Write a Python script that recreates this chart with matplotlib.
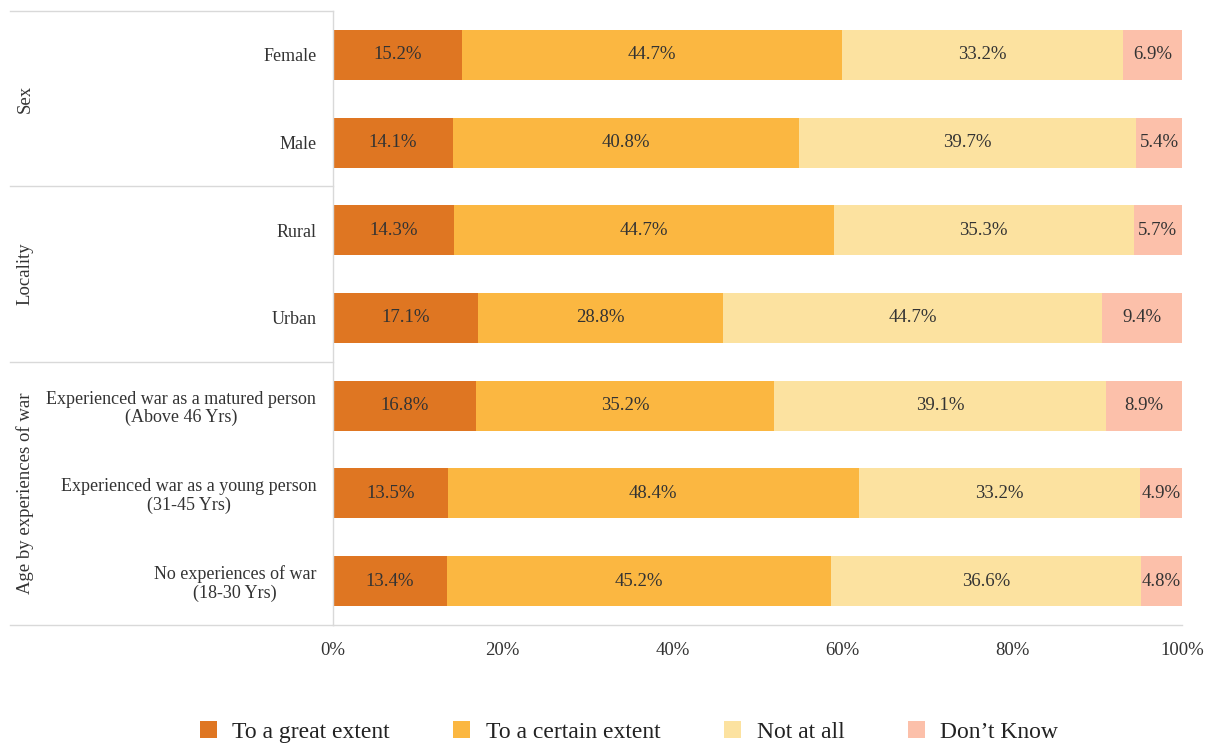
import matplotlib
matplotlib.use("Agg")
import matplotlib.pyplot as plt
import matplotlib.transforms as mtransforms
from matplotlib.lines import Line2D
from matplotlib.ticker import PercentFormatter
import numpy as np

plt.rcParams["font.family"] = ["Liberation Serif", "DejaVu Serif"]

# Data (percent of respondents)
rows = [
    "Female",
    "Male",
    "Rural",
    "Urban",
    "Experienced war as a matured person\n(Above 46 Yrs)",
    "Experienced war as a young person\n(31-45 Yrs)",
    "No experiences of war\n(18-30 Yrs)",
]
great_extent = [15.2, 14.1, 14.3, 17.1, 16.8, 13.5, 13.4]
certain_extent = [44.7, 40.8, 44.7, 28.8, 35.2, 48.4, 45.2]
not_at_all = [33.2, 39.7, 35.3, 44.7, 39.1, 33.2, 36.6]
dont_know = [6.9, 5.4, 5.7, 9.4, 8.9, 4.9, 4.8]

groups = ["Sex", "Locality", "Age by experiences of war"]
group_sizes = [2, 2, 3]

series = [great_extent, certain_extent, not_at_all, dont_know]
labels = ["To a great extent", "To a certain extent", "Not at all", "Don\u2019t Know"]
colors = ["#DF7622", "#FBB741", "#FCE2A0", "#FCC0AA"]
text_color = "#333333"
fs = 13.5

fig = plt.figure(figsize=(12.12, 7.47), dpi=100)
ax = fig.add_axes([333 / 1212, 1 - 625 / 747, 849 / 1212, 614 / 747])

y = np.arange(len(rows))
left = np.zeros(len(rows))
for vals, lab, col in zip(series, labels, colors):
    vals = np.array(vals)
    bars = ax.barh(y, vals, height=0.57, left=left, color=col, label=lab, linewidth=0)
    ax.bar_label(bars, labels=[f"{v:.1f}%" for v in vals], label_type="center",
                 fontsize=fs, color=text_color)
    left += vals

ax.set_xlim(0, 100)
ax.set_ylim(len(rows) - 0.5, -0.5)
ax.set_yticks(y)
ax.set_yticklabels(rows, fontsize=13, color=text_color, linespacing=1.1,
                   multialignment="center")
ax.set_xticks(np.arange(0, 101, 20))
ax.xaxis.set_major_formatter(PercentFormatter(decimals=0))
ax.tick_params(axis="x", length=0, pad=12, labelsize=fs, labelcolor=text_color)
ax.tick_params(axis="y", length=0, pad=12)
for side in ["top", "right"]:
    ax.spines[side].set_visible(False)
for side in ["left", "bottom"]:
    ax.spines[side].set_color("#D9D9D9")
    ax.spines[side].set_linewidth(1)

# group dividers and rotated group names on the left
trans = mtransforms.blended_transform_factory(fig.transFigure, ax.transData)
edge = -0.5
bounds = [edge]
for size in group_sizes:
    edge += size
    bounds.append(edge)
for b in bounds:
    fig.add_artist(Line2D([10 / 1212, 333 / 1212], [b, b], transform=trans,
                          color="#D9D9D9", linewidth=1))
for name, lo, hi in zip(groups, bounds[:-1], bounds[1:]):
    fig.text(25 / 1212, (lo + hi) / 2, name, transform=trans, rotation=90,
             ha="center", va="center", fontsize=fs, color=text_color)

ax.legend(loc="center", bbox_to_anchor=(629 / 1212, 1 - 732 / 747),
          bbox_transform=fig.transFigure, ncol=4, frameon=False, fontsize=17,
          handlelength=0.72, handleheight=0.72, columnspacing=2.7, handletextpad=0.65,
          labelcolor="#222222")

fig.savefig("out.png", dpi=100)
